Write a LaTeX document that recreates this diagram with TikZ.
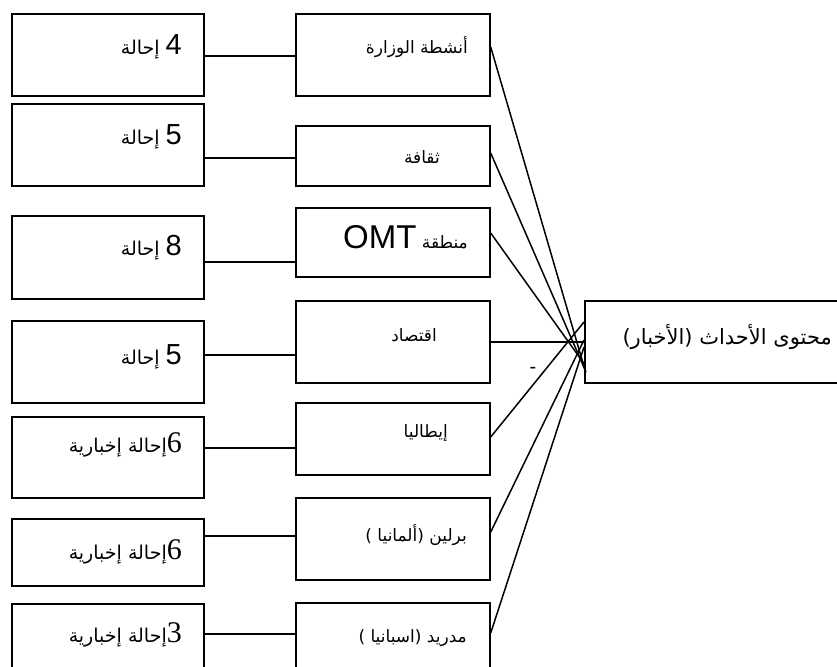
\documentclass[tikz,border=0pt]{standalone}
\usepackage{fontspec}
\newfontfamily\arabicfont[Script=Arabic]{DejaVu Sans}
\newfontfamily\latinsans{Liberation Sans}
\newfontfamily\latinserif{Liberation Serif}
\TeXXeTstate=1
\tikzset{
  box/.style={draw, line width=1.7pt, inner sep=0pt, anchor=north west},
  link/.style={line width=1.5pt},
  lbl/.style={anchor=east, inner sep=0pt, font=\arabicfont\fontsize{17}{20}\selectfont},
  reflbl/.style={lbl, font=\arabicfont\fontsize{19}{22}\selectfont},
}
\newcommand{\ar}[1]{\beginR #1\endR}
\newcommand{\snum}[1]{{\latinsans\fontsize{29}{30}\selectfont #1}}
\newcommand{\rnum}[1]{{\latinserif\fontsize{30}{30}\selectfont #1}}
\begin{document}
\begin{tikzpicture}[x=1pt,y=-1pt]
\useasboundingbox (0,0) rectangle (837,666);
% left column of boxes
\node[box, minimum width=192pt, minimum height=82pt] (L1) at (11,13) {};
\node[box, minimum width=192pt, minimum height=82pt] (L2) at (11,103) {};
\node[box, minimum width=192pt, minimum height=83pt] (L3) at (11,215) {};
\node[box, minimum width=192pt, minimum height=82pt] (L4) at (11,320) {};
\node[box, minimum width=192pt, minimum height=81pt] (L5) at (11,416) {};
\node[box, minimum width=192pt, minimum height=67pt] (L6) at (11,518) {};
\node[box, minimum width=192pt, minimum height=90pt] (L7) at (11,603) {};
% middle column of boxes
\node[box, minimum width=194pt, minimum height=82pt] (M1) at (295,13) {};
\node[box, minimum width=194pt, minimum height=60pt] (M2) at (295,125) {};
\node[box, minimum width=194pt, minimum height=69pt] (M3) at (295,207) {};
\node[box, minimum width=194pt, minimum height=82pt] (M4) at (295,300) {};
\node[box, minimum width=194pt, minimum height=72pt] (M5) at (295,402) {};
\node[box, minimum width=194pt, minimum height=82pt] (M6) at (295,497) {};
\node[box, minimum width=194pt, minimum height=90pt] (M7) at (295,602) {};
% target box
\node[box, minimum width=320pt, minimum height=82pt] (R) at (584,300) {};

% texts of the left boxes
\node[reflbl] (tL1) at (182,47) {\ar{\snum{4} إحالة}};
\node[reflbl] (tL2) at (182,137) {\ar{\snum{5} إحالة}};
\node[reflbl] (tL3) at (182,248) {\ar{\snum{8} إحالة}};
\node[reflbl] (tL4) at (182,357) {\ar{\snum{5} إحالة}};
\node[reflbl] (tL5) at (182,445) {\ar{\rnum{6}إحالة إخبارية}};
\node[reflbl] (tL6) at (182,552) {\ar{\rnum{6}إحالة إخبارية}};
\node[reflbl] (tL7) at (182,635) {\ar{\rnum{3}إحالة إخبارية}};

% texts of the middle boxes
\node[lbl] (tM1) at (468,47) {\ar{أنشطة الوزارة}};
\node[lbl] (tM2) at (440,157) {\ar{ثقافة}};
\node[lbl] (tM3) at (468,237) {\ar{منطقة \beginL{\latinsans\fontsize{33}{34}\selectfont OMT}\endL}};
\node[lbl] (tM4) at (437,335) {\ar{اقتصاد}};
\node[lbl] (tM5) at (448,433) {\ar{إيطاليا}};
\node[lbl] (tM6) at (467,535) {\ar{برلين (ألمانيا )}};
\node[lbl] (tM7) at (467,638) {\ar{مدريد (اسبانيا )}};
\node[lbl, font=\arabicfont\fontsize{21}{24}\selectfont] (tR) at (832,337) {\ar{محتوى الأحداث (الأخبار)}};
\node[inner sep=0pt, font=\latinsans\fontsize{20}{20}\selectfont] (dash) at (533,370) {-};

% horizontal links between the left and middle columns
\draw[link] (L1.east |- 0,56) -- (M1.west |- 0,56);
\draw[link] (L2.east |- 0,158) -- (M2.west |- 0,158);
\draw[link] (L3.east |- 0,262) -- (M3.west |- 0,262);
\draw[link] (L4.east |- 0,355) -- (M4.west |- 0,355);
\draw[link] (L5.east |- 0,448) -- (M5.west |- 0,448);
\draw[link] (L6.east |- 0,536) -- (M6.west |- 0,536);
\draw[link] (L7.east |- 0,634) -- (M7.west |- 0,634);

% links converging on the target box
\draw[link] (M1.east |- 0,47) -- ([xshift=1pt]R.west |- 0,370);
\draw[link] (M2.east |- 0,153) -- ([xshift=2pt]R.west |- 0,372);
\draw[link] (M3.east |- 0,233) -- ([xshift=1pt]R.west |- 0,365);
\draw[link] (M4.east |- 0,342) -- (R.west |- 0,342);
\draw[link] (M5.east |- 0,437) -- (R.west |- 0,322);
\draw[link] (M6.east |- 0,532) -- (R.west |- 0,340);
\draw[link] (M7.east |- 0,633) -- (R.west |- 0,347);
\end{tikzpicture}
\end{document}
